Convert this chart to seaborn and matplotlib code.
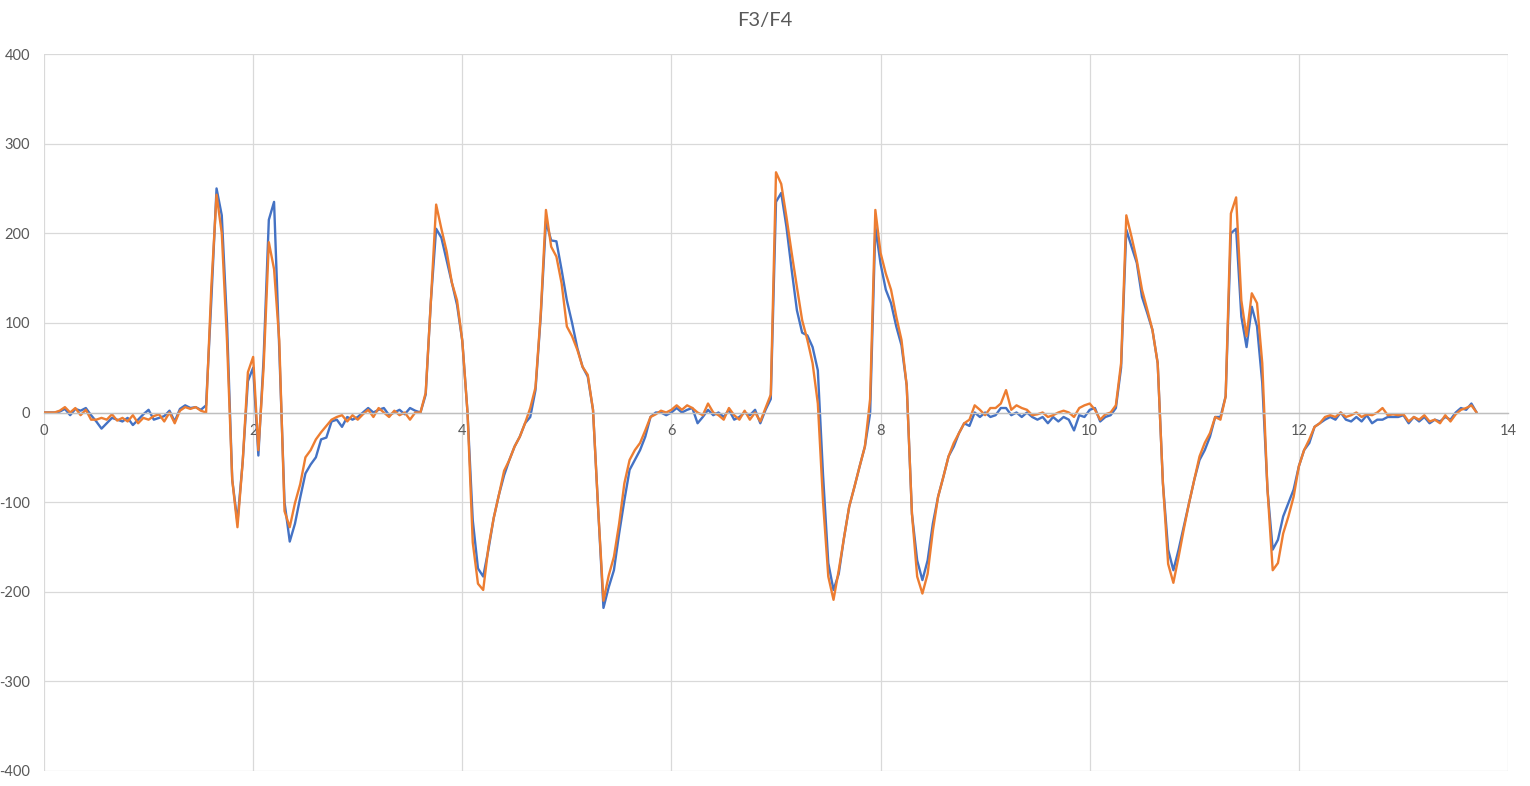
import numpy as np
import pandas as pd
import seaborn as sns
import matplotlib
matplotlib.use("Agg")
import matplotlib.pyplot as plt

# sample spacing (s) and the two channels
dt = 0.05

f3 = [
    0, 0, 0, 1, 4, -3, 4, 2, 5, -3, -10, -18, -12, -6, -8, -10, -6, -14, -8, -2,
    3, -8, -6, -4, 2, -10, 4, 8, 5, 6, 3, 8, 125, 250, 220, 100, -75, -122, -55, 35,
    50, -48, 60, 215, 235, 70, -100, -144, -124, -95, -68, -58, -50, -30, -28, -10, -8, -16, -5, -8,
    -5, 0, 5, 0, 3, 5, -3, 0, 3, -2, 5, 2, 0, 20, 125, 205, 195, 170, 145, 120,
    80, 0, -120, -174, -183, -153, -118, -92, -70, -53, -38, -27, -12, -5, 25, 107, 213, 192, 191, 159,
    125, 100, 72, 51, 40, 3, -109, -218, -195, -176, -135, -98, -64, -53, -42, -27, -5, 0, 0, -3,
    0, 5, 0, 3, 5, -12, -5, 3, -3, 0, -5, 3, -8, -5, 0, -3, 3, -12, 3, 15,
    235, 245, 207, 159, 114, 89, 86, 73, 47, -70, -168, -198, -180, -140, -105, -83, -60, -38, -1, 207,
    166, 137, 122, 96, 75, 30, -113, -165, -187, -165, -124, -94, -72, -49, -38, -23, -12, -15, 0, -5,
    0, -5, -3, 5, 5, -3, 0, -5, 0, -5, -8, -5, -12, -5, -10, -5, -8, -20, -3, -5,
    3, 5, -10, -5, -3, 5, 50, 204, 185, 167, 129, 111, 92, 55, -79, -153, -176, -153, -127, -101,
    -75, -53, -42, -27, -5, -5, 18, 200, 205, 107, 73, 118, 96, 33, -86, -153, -142, -116, -101, -86,
    -60, -42, -34, -16, -12, -8, -5, -8, 0, -8, -10, -5, -10, -3, -12, -8, -8, -5, -5, -5,
    -3, -12, -5, -10, -5, -12, -8, -10, -5, -8, 0, 5, 3, 10, 0,
]

f4 = [
    0, 0, 0, 2, 6, 0, 5, -3, 3, -8, -8, -6, -8, -2, -9, -6, -10, -3, -12, -6,
    -8, -4, -2, -10, 0, -12, 2, 6, 4, 6, 2, 0, 140, 243, 200, 80, -75, -128, -55, 45,
    62, -42, 50, 190, 160, 80, -110, -128, -101, -80, -50, -42, -30, -22, -15, -8, -5, -3, -10, -3,
    -8, -2, 3, -5, 5, 0, -5, 2, -3, 0, -8, 0, 0, 22, 125, 232, 205, 180, 145, 125,
    80, 0, -145, -191, -198, -150, -118, -92, -65, -53, -38, -27, -12, 5, 28, 110, 226, 185, 174, 144,
    96, 85, 70, 51, 42, 3, -109, -210, -182, -161, -124, -79, -53, -42, -34, -20, -5, -2, 2, 0,
    3, 8, 3, 8, 5, 0, -3, 10, 0, -3, -8, 5, -3, -8, 2, -8, 0, -10, 5, 20,
    268, 255, 218, 178, 140, 103, 81, 55, 10, -100, -183, -209, -176, -140, -105, -83, -60, -38, 15, 226,
    178, 155, 137, 107, 81, 30, -113, -183, -202, -180, -132, -94, -72, -49, -34, -23, -12, -8, 8, 3,
    -3, 5, 5, 10, 25, 3, 8, 5, 3, -3, -2, 0, -5, -3, 0, 2, 0, -5, 5, 8,
    10, 3, -8, -2, 0, 8, 55, 220, 196, 170, 137, 115, 92, 55, -79, -169, -190, -161, -130, -101,
    -75, -49, -34, -23, -5, -8, 18, 222, 240, 125, 85, 133, 122, 55, -86, -176, -168, -135, -116, -94,
    -60, -42, -30, -16, -12, -5, -3, -5, 0, -5, -3, 0, -5, -2, -3, 0, 5, -3, -2, -3,
    -2, -10, -5, -8, -3, -10, -8, -12, -3, -10, -2, 3, 5, 8, 0,
]

series_names = ["F3", "F4"]
series_colors = ["#4472C4", "#ED7D31"]
x_ticks = [0, 2, 4, 6, 8, 10, 12, 14]
y_ticks = [-400, -300, -200, -100, 0, 100, 200, 300, 400]

t = np.arange(len(f3)) * dt
df = pd.concat([
    pd.DataFrame({"t": t, "value": f3, "channel": "F3"}),
    pd.DataFrame({"t": t, "value": f4, "channel": "F4"}),
])

sns.set_style("white")
plt.rcParams["font.family"] = ["Lato", "DejaVu Sans"]
plt.rcParams["axes.unicode_minus"] = False

fig = plt.figure(figsize=(15.3, 7.86), dpi=100)
ax = fig.add_axes([44 / 1530, 15 / 786, 1464 / 1530, 717 / 786])

sns.lineplot(data=df, x="t", y="value", hue="channel", hue_order=series_names,
             palette=series_colors, linewidth=1.7, legend=False, ax=ax)

ax.set_xlim(0, 14)
ax.set_ylim(-400, 400)
ax.set_xticks(x_ticks)
ax.set_yticks(y_ticks)
ax.grid(True, color="#d9d9d9", linewidth=0.9)
ax.set_axisbelow(True)
for s in ["top", "right", "left"]:
    ax.spines[s].set_visible(False)
ax.spines["bottom"].set_position(("data", 0))
ax.spines["bottom"].set_color("#bfbfbf")
ax.spines["bottom"].set_linewidth(1.0)
ax.tick_params(axis="both", length=0, labelsize=10.5, labelcolor="#595959")
ax.tick_params(axis="x", pad=8)
ax.tick_params(axis="y", pad=10)
ax.set_xlabel("")
ax.set_ylabel("")
fig.suptitle("F3/F4", y=0.985, fontsize=14.5, color="#595959")

fig.savefig("out.png", dpi=100)
